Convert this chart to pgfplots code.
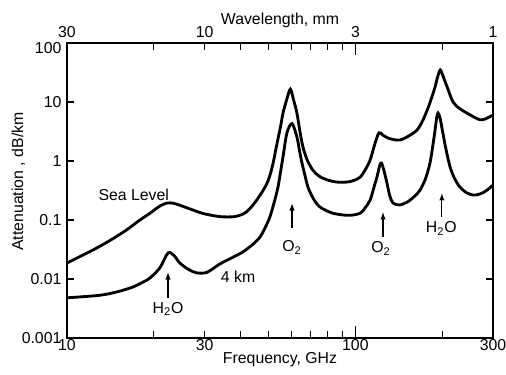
\documentclass[border=0pt]{standalone}
\usepackage{fontspec}
\setmainfont{Liberation Sans}
\usepackage{pgfplots}
\pgfplotsset{compat=1.18}
\usetikzlibrary{arrows.meta}
\begin{document}
\fontsize{9.5}{11}\selectfont
\begin{tikzpicture}
\begin{axis}[
  scale only axis, width=255.6pt, height=177pt,
  xmode=log, ymode=log, xmin=10, xmax=300, ymin=0.001, ymax=100,
  xtick={10,30,300}, xticklabels={10,30,300},
  extra x ticks={100}, extra x tick labels={100},
  extra x tick style={major tick length=7.5pt},
  minor xtick={20,40,50,60,70,80,90,200},
  ytick={0.001,0.01,0.1,1,10,100},
  yticklabels={0.001,0.01,0.1,1,10,\raisebox{-6.5pt}[0pt][0pt]{100}},
  yminorticks=false,
  major tick length=4pt, minor tick length=4pt,
  axis line style={line width=1.1pt},
  every tick/.style={line width=0.8pt, black},
  xticklabel style={inner sep=0.8pt},
  xlabel={Frequency, GHz},
  xlabel style={at={(axis description cs:0.5,-0.085)}, anchor=base},
  ylabel={Attenuation , dB/km},
  ylabel style={at={(axis description cs:-0.103,0.5305)}, anchor=base},
  clip=false,
]
\addplot[black, line width=1.7pt, smooth, tension=0.5] coordinates {
(10,0.0187) (12.3,0.031) (14.2,0.046) (16.1,0.068) (17.8,0.098) (19.4,0.13)
(20.9,0.17) (22.2,0.194) (23.4,0.192) (24.6,0.178) (27.4,0.147) (30,0.127)
(34,0.114) (38,0.114) (41,0.128) (43,0.155) (46,0.235) (49.4,0.42)
(51.5,0.8) (53.5,2.0) (55,3.8) (56.1,6.5) (57.8,11) (59.5,16.5)
(61,11) (62.7,6.5) (64.2,3.2) (65.8,1.73) (68,1.05) (71.2,0.70)
(75,0.55) (79.7,0.48) (86,0.44) (93.6,0.44) (99,0.47) (103.8,0.53)
(108,0.7) (112.5,1.04) (117,2.0) (120.7,3.0) (124.5,2.75) (129.8,2.45)
(136,2.3) (142.8,2.27) (152,2.6) (163.6,3.35) (171,4.8) (178.6,7.9)
(184,12) (188.9,18) (193,27) (197,35) (201,28) (208,18) (218,10)
(230,7.7) (243.6,6.5) (257,5.6) (270,5.0) (280,5.1) (290,5.5) (300,6.0)
};
\addplot[black, line width=1.7pt, smooth, tension=0.5] coordinates {
(10,0.0048) (13,0.0053) (15,0.0061) (16.9,0.0073) (18.3,0.0088) (19.4,0.0104)
(21,0.0155) (22.4,0.0276) (23.5,0.025) (24.6,0.0187) (26.4,0.0145) (28.2,0.0127)
(30.6,0.013) (33.9,0.018) (37.7,0.0235) (40.7,0.0287) (44.2,0.039) (46.7,0.0515)
(48.7,0.075) (50.5,0.112) (52.3,0.2) (53.9,0.36) (55,0.65) (56.1,1.17)
(57.9,3.0) (60.3,4.3) (62.7,2.55) (64,1.5) (65.3,0.92) (66.8,0.58)
(68.5,0.36) (71.5,0.23) (75.4,0.166) (83.6,0.13) (95,0.12) (103.8,0.13)
(108,0.16) (112.5,0.218) (116,0.36) (118.8,0.536) (121.5,0.85) (123.2,0.92)
(125.5,0.7) (128.7,0.42) (131.5,0.26) (135,0.194) (142,0.18) (151,0.2)
(160,0.25) (167.5,0.32) (175,0.5) (181.4,0.92) (185.5,1.8) (188.9,3.35)
(191.5,5.5) (193.5,6.5) (196.5,5.4) (201,3.0) (206,1.6) (213,0.79)
(221,0.5) (230.5,0.36) (243,0.29) (255.7,0.265) (266,0.27) (277,0.29)
(288,0.33) (300,0.39)
};
\node[anchor=base west] at (axis cs:12.3,0.218) {Sea Level};
\node[anchor=base west] at (axis cs:32.7,0.0086) {4 km};
\draw[-{Latex[length=4.5pt,width=3.2pt]}, line width=0.7pt] (axis cs:22.4,0.0048) -- (axis cs:22.4,0.0131);
\node[anchor=base] at (axis cs:22.4,0.00265) {H\textsubscript{2}O};
\draw[-{Latex[length=4.5pt,width=3.2pt]}, line width=0.7pt] (axis cs:60.3,0.073) -- (axis cs:60.3,0.194);
\node[anchor=base] at (axis cs:60.3,0.0287) {O\textsubscript{2}};
\draw[-{Latex[length=4.5pt,width=3.2pt]}, line width=0.7pt] (axis cs:124.7,0.0515) -- (axis cs:124.7,0.137);
\node[anchor=base] at (axis cs:122.7,0.0276) {O\textsubscript{2}};
\draw[-{Latex[length=4.5pt,width=3.2pt]}, line width=0.7pt] (axis cs:199.5,0.112) -- (axis cs:199.5,0.287);
\node[anchor=base] at (axis cs:198.5,0.0603) {H\textsubscript{2}O};
\end{axis}
\begin{axis}[
  scale only axis, width=255.6pt, height=177pt,
  xmode=log, xmin=10, xmax=300, ymin=0, ymax=1,
  axis x line*=top, hide y axis,
  axis line style={line width=1.1pt},
  xtick={10,30,100,300}, xticklabels={30,10,3,1},
  major tick length=0pt, minor tick length=0pt, minor x tick num=0,
  xminorticks=false,
  xlabel={Wavelength, mm},
  xlabel style={at={(axis description cs:0.5,1.061)}, anchor=base},
]
\end{axis}
\pgfresetboundingbox
\useasboundingbox (-40.2pt,-22.2pt) rectangle (263.4pt,202.8pt);
\end{tikzpicture}
\end{document}
